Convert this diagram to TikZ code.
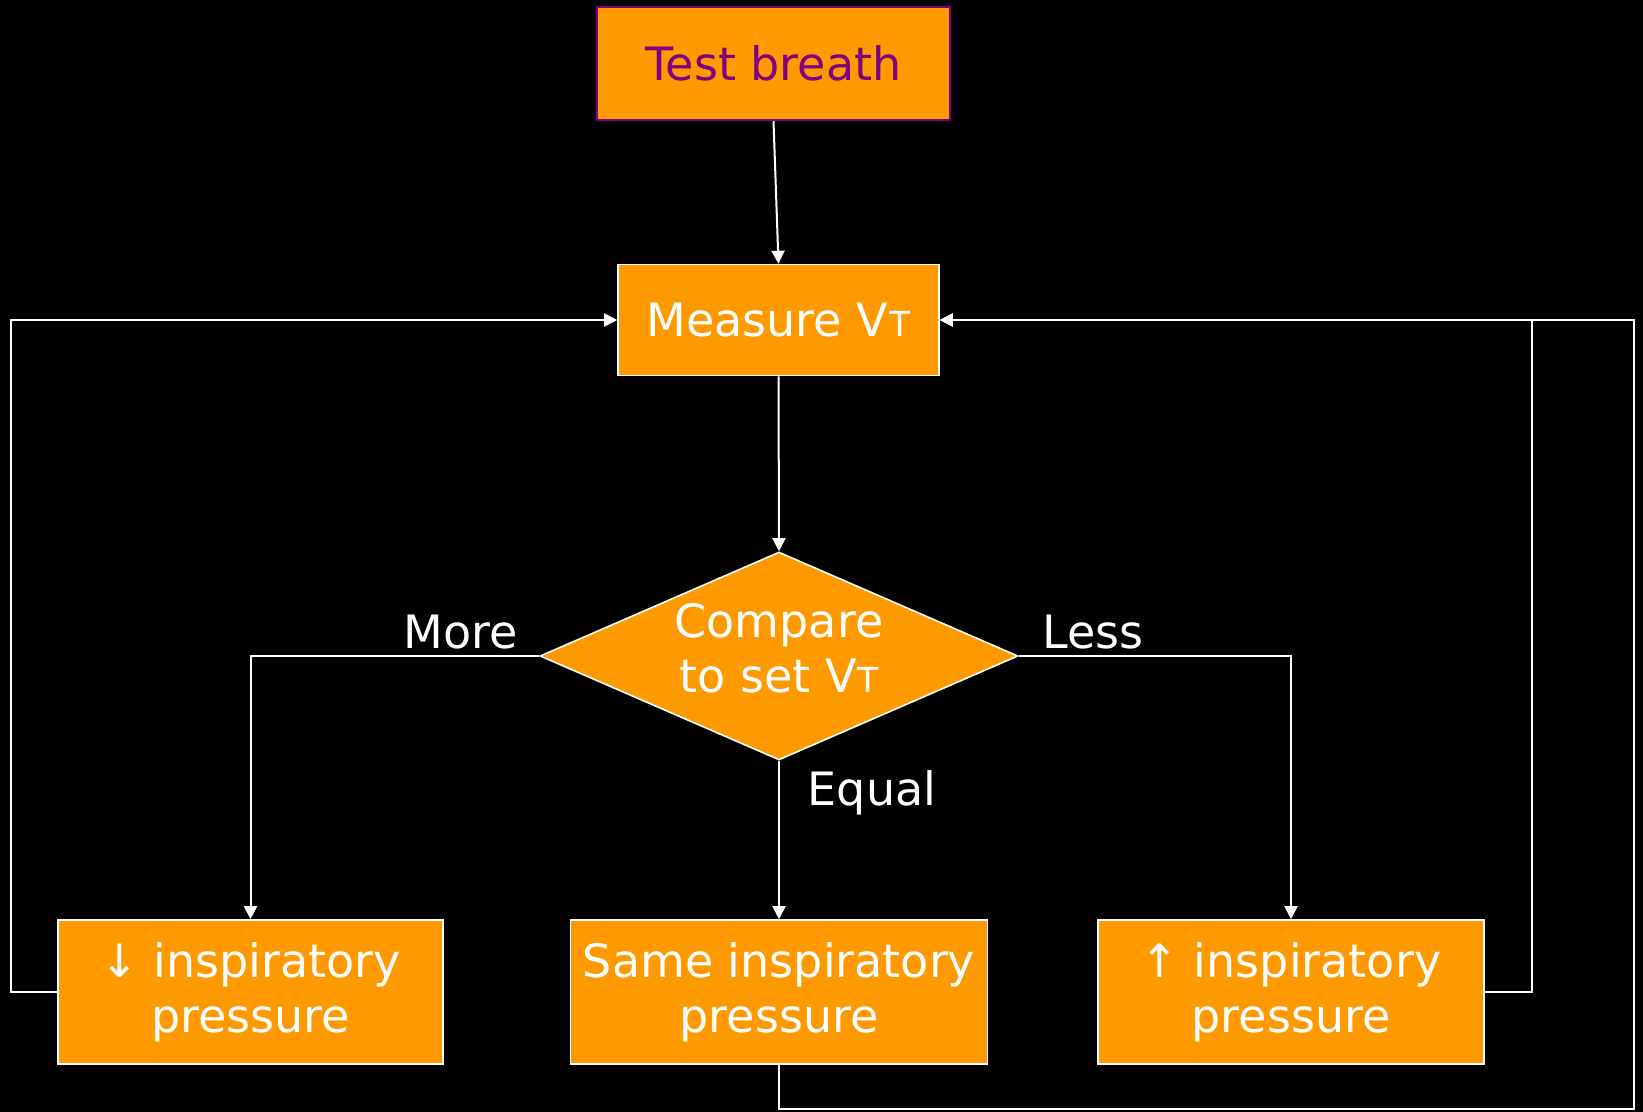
\documentclass[tikz,border=0pt]{standalone}
\usepackage{fontspec}
\usepackage{graphicx}
\setmainfont{DejaVu Sans}
\usetikzlibrary{shapes.geometric,arrows.meta}
\definecolor{orng}{RGB}{255,153,0}
\definecolor{purp}{RGB}{128,0,128}
\newcommand\vtee{V\kern0.5pt\scalebox{0.75}{T}}
\begin{document}
\begin{tikzpicture}[x=0.5pt,y=-0.5pt,
  every node/.style={font=\fontsize{23pt}{27.5pt}\selectfont, text=white},
  box/.style={draw=white, line width=0.8pt, fill=orng, inner sep=0pt, align=center},
  conn/.style={draw=white, line width=1pt},
  arr/.style={conn, -{Triangle[length=6.5pt,width=6.5pt]}},
  lbl/.style={inner sep=0pt}]
\fill[black] (0,0) rectangle (1643,1112);
\useasboundingbox (0,0) rectangle (1643,1112);
\node[box, draw=purp, line width=1.2pt, text=purp, minimum width=176.5pt, minimum height=56.5pt] (tb) at (773.5,63.5) {Test breath};
\node[box, minimum width=160.5pt, minimum height=55.5pt] (meas) at (778.5,320) {Measure \vtee};
\node[box, shape=diamond, minimum width=239pt, minimum height=104pt, shape aspect=2.3] (cmp) at (779,656) {};
\node[align=center, inner sep=0pt] (cmptxt) at (779,648) {Compare\\to set \vtee};
\node[box, minimum width=192.5pt, minimum height=72pt] (dec) at (250.5,992) {↓ inspiratory\\pressure};
\node[box, minimum width=208.5pt, minimum height=72pt] (same) at (779,992) {Same inspiratory\\pressure};
\node[box, minimum width=193pt, minimum height=72pt] (inc) at (1291,992) {↑ inspiratory\\pressure};
\node[lbl] (more) at (461,632) {More};
\node[lbl] (less) at (1093,632) {Less};
\node[lbl] (equal) at (872,793) {Equal};
\coordinate (lx) at (11,0);
\coordinate (rx) at (1532,0);
\coordinate (ox) at (1634,1109);
\draw[arr] (tb.south) -- (meas.north);
\draw[arr] (meas.south) -- (cmp.north);
\draw[arr] (cmp.west) -| (dec.north);
\draw[arr] (cmp.east) -| (inc.north);
\draw[arr] (cmp.south) -- (same.north);
\draw[arr] (dec.west) -- (dec.west -| lx) |- (meas.west);
\draw[arr] (inc.east) -- (inc.east -| rx) |- (meas.east);
\draw[arr] (same.south) |- (ox) -- (ox |- meas.east) -- (meas.east);
\end{tikzpicture}
\end{document}
